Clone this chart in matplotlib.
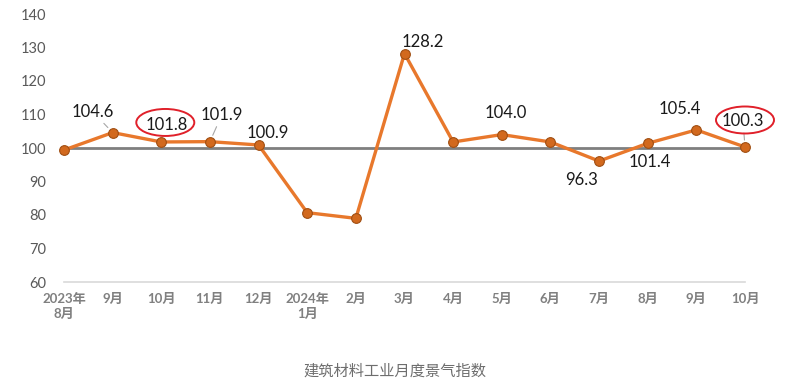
import matplotlib
matplotlib.use("Agg")
import matplotlib.pyplot as plt
from matplotlib.patches import Ellipse
from matplotlib.transforms import Affine2D, ScaledTranslation

plt.rcParams['font.family'] = ['Lato', 'Noto Sans CJK SC', 'DejaVu Sans']

months = ["2023年\n8月", "9月", "10月", "11月", "12月", "2024年\n1月", "2月", "3月",
          "4月", "5月", "6月", "7月", "8月", "9月", "10月"]
values = [99.4, 104.6, 101.8, 101.9, 100.9, 80.7, 79.0, 128.2,
          101.8, 104.0, 101.8, 96.1, 101.4, 105.4, 100.3]
label_text = {1: "104.6", 2: "101.8", 3: "101.9", 4: "100.9", 7: "128.2",
              9: "104.0", 11: "96.3", 12: "101.4", 13: "105.4", 14: "100.3"}
# label offsets in pixels (dx, dy), leader flag
label_pos = {1: (-20, 21, True), 2: (5, 17, False), 3: (12, 27, True), 4: (9, 12, False),
             7: (18, 12, False), 9: (4, 22, False), 11: (-18, -19, False),
             12: (2, -19, False), 13: (-17, 21, False), 14: (-2, 26, True)}
circled = {2: (4, 19.5), 14: (0, 27)}
yticks = [60, 70, 80, 90, 100, 110, 120, 130, 140]
caption = "建筑材料工业月度景气指数"

W, H = 791, 383
fig = plt.figure(figsize=(W / 100, H / 100), dpi=100)
ax = fig.add_axes([64 / W, 1 - 282 / H, (745 - 64) / W, (282 - 14) / H])

x = list(range(len(values)))
ax.set_xlim(0, len(values) - 1)
ax.set_ylim(60, 140)

ax.axhline(100, color='#7F7F7F', lw=2.0, zorder=2)
ax.plot(x, values, color='#E8782C', lw=2.4, zorder=3, clip_on=False,
        marker='o', markersize=7, markerfacecolor='#D2691E', markeredgecolor='#A04E12',
        markeredgewidth=0.8)

for s in ['top', 'right', 'left']:
    ax.spines[s].set_visible(False)
ax.spines['bottom'].set_color('#D9D9D9')
ax.spines['bottom'].set_linewidth(1.2)

ax.set_yticks(yticks)
ax.set_yticklabels([str(v) for v in yticks])
ax.tick_params(axis='y', length=0, pad=13, labelsize=10.5, labelcolor='#595959')
ax.set_xticks(x)
ax.set_xticklabels(months, linespacing=1.3)
ax.tick_params(axis='x', length=0, pad=8, labelsize=9.5, labelcolor='#808080')
for t in ax.get_xticklabels():
    t.set_fontweight('bold')
    t.set_verticalalignment('top')

for i, txt in label_text.items():
    dx, dy, leader = label_pos[i]
    kw = {}
    if leader:
        kw['arrowprops'] = dict(arrowstyle='-', color='#A6A6A6', lw=0.8, shrinkA=1, shrinkB=5)
    ax.annotate(txt, (x[i], values[i]), xytext=(dx, dy), textcoords='offset pixels',
                ha='center', va='center', fontsize=12, color='#1A1A1A', zorder=5, **kw)

for i, (dx, dy) in circled.items():
    tr = Affine2D().translate(dx, dy) + ScaledTranslation(x[i], values[i], ax.transData)
    e = Ellipse((0, 0), 58, 27, transform=tr, fill=False, edgecolor='#E0202A', lw=1.4,
                zorder=6, clip_on=False)
    ax.add_artist(e)

fig.text(395 / W, 1 - 371 / H, caption, ha='center', va='center', fontsize=11,
         color='#6E6E6E')

fig.savefig("out.png", dpi=100)
